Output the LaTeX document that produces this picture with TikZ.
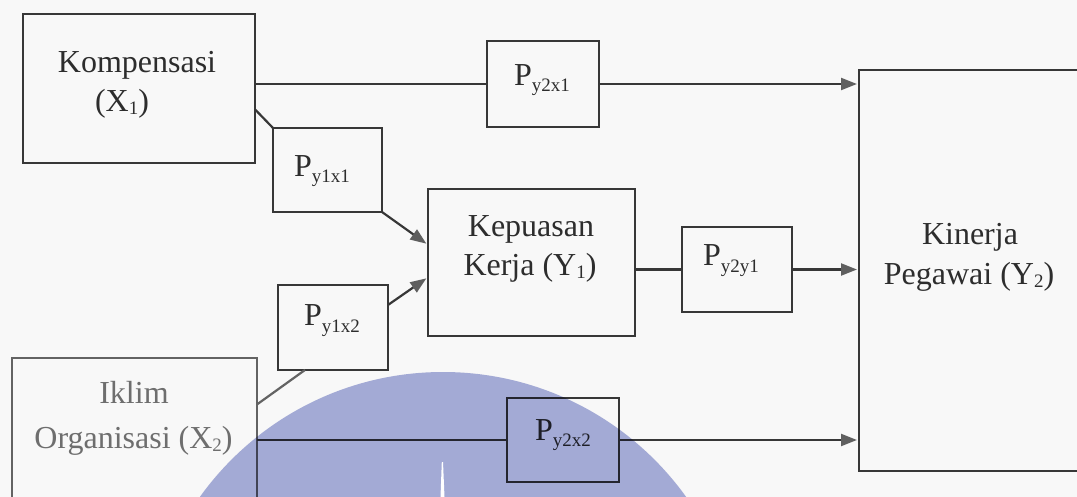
\documentclass[tikz,border=0pt]{standalone}
\usepackage{fontspec}
\setmainfont{Liberation Serif}
\usetikzlibrary{arrows.meta,calc}
\definecolor{ink}{RGB}{55,55,55}
\definecolor{txt}{RGB}{45,45,45}
\definecolor{faint}{RGB}{110,110,110}
\definecolor{tipgray}{RGB}{95,95,95}
\definecolor{wm}{RGB}{168,175,220}
\definecolor{paper}{RGB}{248,248,248}
\newcommand{\lsub}[1]{\raisebox{-3pt}{\fontsize{19}{19}\selectfont #1}}
\newcommand{\plab}[1]{P\raisebox{-6pt}{\fontsize{19}{19}\selectfont #1}}
\begin{document}
\begin{tikzpicture}[x=1pt,y=-1pt,
  box/.style={draw=ink, line width=2.4pt, inner sep=0pt, outer sep=0pt},
  lbl/.style={anchor=base, text=txt, font=\fontsize{32}{38}\selectfont, inner sep=0pt, outer sep=0pt},
  conn/.style={draw=ink, line width=2.2pt},
  arr/.style={conn, -{Triangle[length=16pt,width=12pt,color=tipgray]}, shorten >=2pt}]
\useasboundingbox (0,0) rectangle (1077,497);
\clip (0,0) rectangle (1077,497);
\fill[paper] (0,0) rectangle (1077,497);

% boxes
\node[box, minimum width=232pt, minimum height=149pt] (komp) at (139,88.5) {};
\node[box, minimum width=112pt, minimum height=86pt] (py2x1) at (543,84) {};
\node[box, minimum width=109pt, minimum height=84pt] (py1x1) at (327.5,170) {};
\node[box, minimum width=207pt, minimum height=147pt] (kep) at (531.5,262.5) {};
\node[box, minimum width=110pt, minimum height=85pt] (py2y1) at (737,269.5) {};
\node[box, minimum width=222pt, minimum height=401pt] (kin) at (970,270.5) {};
\node[box, minimum width=110pt, minimum height=85pt] (py1x2) at (333,327.5) {};
\node[box, draw=faint!80!ink, minimum width=245pt, minimum height=172pt] (ikl) at (134.5,444) {};
\node[box, minimum width=112pt, minimum height=84pt] (py2x2) at (563,440) {};

% texts
\node[lbl] (kompA) at (137,73) {Kompensasi};
\node[lbl] (kompB) at (122,112) {(X\lsub{1})};
\node[lbl] (kepA) at (531,237) {Kepuasan};
\node[lbl] (kepB) at (530,276) {Kerja (Y\lsub{1})};
\node[lbl] (kinA) at (970,245) {Kinerja};
\node[lbl] (kinB) at (969,285) {Pegawai (Y\lsub{2})};
\node[lbl, text=faint] (iklA) at (134,403) {Iklim};
\node[lbl, text=faint] (iklB) at (133.5,448) {Organisasi (X\lsub{2})};
\node[lbl] (t1) at (322,177) {\plab{y1x1}};
\node[lbl] (t2) at (332,326) {\plab{y1x2}};
\node[lbl] (t3) at (542,86) {\plab{y2x1}};
\node[lbl] (t4) at (731,266) {\plab{y2y1}};
\node[lbl] (t5) at (563,440) {\plab{y2x2}};

% connectors
\draw[conn] (py2x1.west -| komp.east) -- (py2x1.west);
\draw[arr] (py2x1.east) -- (py2x1.east -| kin.west);
\draw[conn] ($(komp.north east)!0.64!(komp.south east)$) -- (py1x1.north west);
\draw[arr] (py1x1.south east) -- ($(kep.north west)!0.38!(kep.south west)$);
\draw[arr] ($(py1x2.north east)!0.235!(py1x2.south east)$) -- ($(kep.north west)!0.6!(kep.south west)$);
\draw[conn, draw=faint!80!ink] ($(ikl.north east)!0.27!(ikl.south east)$) -- ($(py1x2.south west)!0.245!(py1x2.south east)$);
\draw[conn] (py2x2.west -| ikl.east) -- (py2x2.west);
\draw[arr] (py2x2.east) -- (py2x2.east -| kin.west);
\draw[conn] (py2y1.west -| kep.east) -- (py2y1.west);
\draw[arr] (py2y1.east) -- (py2y1.east -| kin.west);

% watermark
\fill[wm, blend mode=multiply] (443,671) circle[radius=299pt];
\fill[white] (440.5,497) -- (441.8,462) -- (443,462) -- (444.5,497) -- cycle;
\end{tikzpicture}
\end{document}
